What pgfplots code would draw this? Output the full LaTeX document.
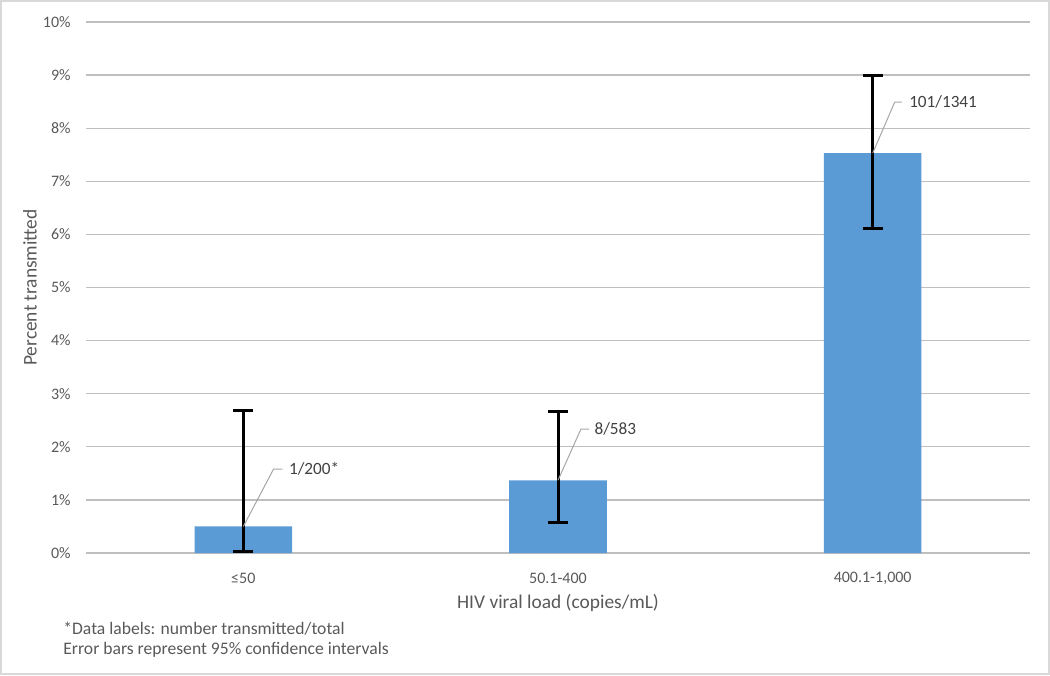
\documentclass[border=0pt]{standalone}
\usepackage{fontspec}
\setmainfont{Carlito}
\usepackage{pgfplots}
\pgfplotsset{compat=1.18}
\definecolor{barblue}{RGB}{91,155,213}
\definecolor{gridgray}{RGB}{191,191,191}
\definecolor{txtgray}{RGB}{89,89,89}
\definecolor{framegray}{RGB}{217,217,217}
\definecolor{leadgray}{RGB}{166,166,166}

\begin{document}
\begin{tikzpicture}
\useasboundingbox (0pt,0pt) rectangle (525pt,337.5pt);
\draw[framegray, line width=0.6pt] (0.5pt,0.5pt) rectangle (524.5pt,337pt);

\begin{axis}[
    at={(43pt,61pt)}, anchor=south west,
    scale only axis, width=472pt, height=265.5pt,
    xmin=-0.5, xmax=2.5, ymin=0, ymax=10,
    xtick={0,1,2},
    xticklabels={{≤50},{50.1-400},{400.1-1,000}},
    ytick={0,1,...,10},
    yticklabel={\pgfmathprintnumber[assume math mode=true]{\tick}\%},
    major tick length=0pt,
    axis line style={draw=none},
    ymajorgrids,
    grid style={gridgray, line width=0.6pt},
    tick label style={font=\fontsize{8}{9.6}\selectfont, text=txtgray},
    xticklabel style={anchor=center, inner sep=0pt, yshift=-12.5pt},
    yticklabel style={anchor=east, inner sep=0pt, xshift=-7.5pt},
    label style={font=\fontsize{9.7}{11.6}\selectfont, text=txtgray},
    xlabel={HIV viral load (copies/mL)},
    ylabel={Percent transmitted},
    xlabel style={at={(axis description cs:0.5,-0.0942)}, anchor=center},
    ylabel style={at={(axis description cs:-0.0593,0.5)}, anchor=center},
    clip=false,
]
\addplot[ybar, bar width=0.31, fill=barblue, draw=none,
    error bars/.cd, y dir=both, y explicit,
    error bar style={line width=1.5pt, black},
    error mark options={rotate=90, mark size=5pt, line width=1.5pt, black}]
    table[x=x, y=y, y error plus=ep, y error minus=em] {
x y    ep   em
0 0.50 2.19 0.48
1 1.37 1.29 0.79
2 7.53 1.47 1.41
};

\begin{scope}[leadgray, line width=0.5pt]
\draw (0,0.5) -- (0.096,1.58) -- (0.124,1.58);
\draw (1,1.37) -- (1.073,2.335) -- (1.099,2.335);
\draw (2,7.53) -- (2.070,8.49) -- (2.093,8.49);
\end{scope}
\begin{scope}[every node/.style={anchor=west, inner sep=0pt, font=\fontsize{8.6}{10}\selectfont, text={rgb,255:red,64;green,64;blue,64}}]
\node at (0.144,1.58) {1/200*};
\node at (1.115,2.335) {8/583};
\node at (2.115,8.49) {101/1341};
\end{scope}
\end{axis}

\node[anchor=west, inner sep=0pt, font=\fontsize{8.8}{10.5}\selectfont, text=txtgray] at (31.5pt,23pt) {*Data labels: number transmitted/total};
\node[anchor=west, inner sep=0pt, font=\fontsize{8.8}{10.5}\selectfont, text=txtgray] at (31.5pt,12.5pt) {Error bars represent 95\% confidence intervals};
\end{tikzpicture}
\end{document}
